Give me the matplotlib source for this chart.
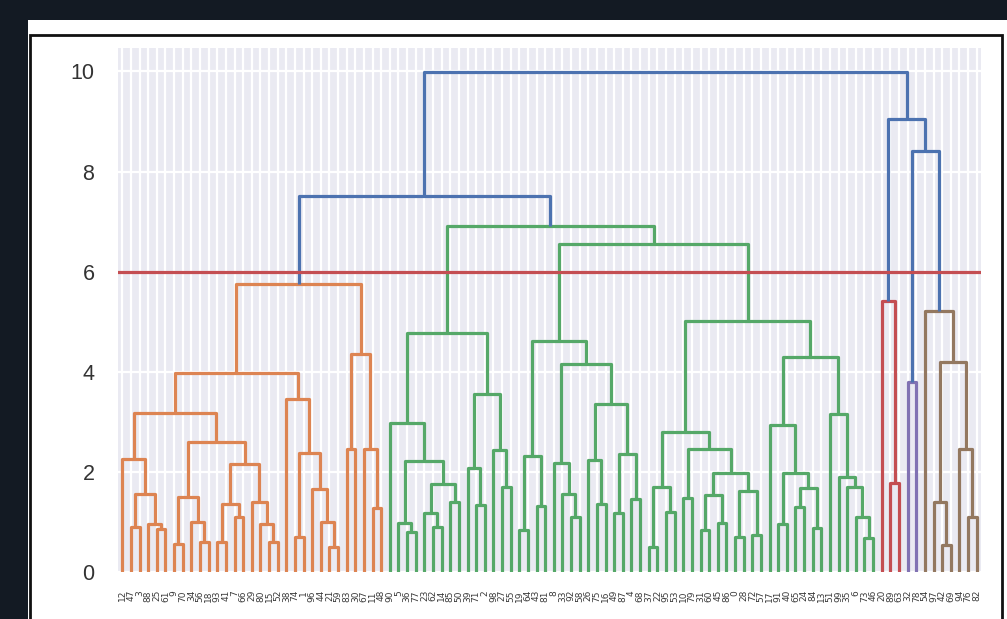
import matplotlib
matplotlib.use("Agg")
import matplotlib.pyplot as plt
from matplotlib.patches import Rectangle

# ---------------------------------------------------------------------------
# Hierarchical clustering result.  A merge is (distance, left, right);
# L marks a single observation.  Leaves are laid out left to right.
# ---------------------------------------------------------------------------
L = None

orange_tree = (5.76,
    (3.98,
        (3.17,
            (2.25, L, (1.55, (0.90, L, L), (0.95, L, (0.85, L, L)))),
            (2.60,
                (1.50, (0.55, L, L), (1.00, L, (0.60, L, L))),
                (2.15,
                    (1.35, (0.60, L, L), (1.10, L, L)),
                    (1.40, L, (0.95, L, (0.60, L, L)))))),
        (3.45, L, (2.37, (0.70, L, L), (1.65, L, (1.00, L, (0.50, L, L)))))),
    (4.35, (2.45, L, L), (2.45, L, (1.28, L, L))))

green_tree = (6.91,
    (4.77,
        (2.98, L, (2.22, (0.98, L, (0.80, L, L)),
                         (1.75, (1.17, L, (0.90, L, L)), (1.40, L, L)))),
        (3.55, (2.07, L, (1.33, L, L)), (2.44, L, (1.70, L, L)))),
    (6.55,
        (4.61,
            (2.31, (0.84, L, L), (1.31, L, L)),
            (4.16,
                (2.18, L, (1.55, L, (1.10, L, L))),
                (3.36,
                    (2.24, L, (1.35, L, L)),
                    (2.35, (1.17, L, L), (1.45, L, L))))),
        (5.02,
            (2.79,
                (1.70, (0.50, L, L), (1.20, L, L)),
                (2.46,
                    (1.47, L, L),
                    (1.97,
                        (1.53, (0.84, L, L), (0.97, L, L)),
                        (1.62, (0.70, L, L), (0.74, L, L))))),
            (4.29,
                (2.93, L, (1.98, (0.95, L, L),
                                 (1.67, (1.30, L, L), (0.87, L, L)))),
                (3.16, L, (1.90, L, (1.70, L, (1.10, L, (0.68, L, L)))))))))

red_tree = (5.42, L, (1.78, L, L))
purple_tree = (3.79, L, L)
brown_tree = (5.22, L, (4.19, (1.40, L, (0.54, L, L)),
                              (2.45, L, (1.10, L, L))))

# merges above the colour threshold, joining the flat clusters
top_links = (9.98,
             (7.51, "orange", "green"),
             (9.06, "red", (8.41, "purple", "brown")))

cut_height = 6.0

leaf_labels = [
    12, 47, 3, 88, 25, 61, 9, 70, 34, 56,
    18, 93, 41, 7, 66, 29, 80, 15, 52, 38,
    74, 1, 96, 44, 21, 59, 83, 30, 67, 11,
    48, 90, 5, 36, 77, 23, 62, 14, 85, 50,
    39, 71, 2, 98, 27, 55, 19, 64, 43, 81,
    8, 33, 92, 58, 26, 75, 16, 49, 87, 4,
    68, 37, 22, 95, 53, 10, 79, 31, 60, 45,
    86, 0, 28, 72, 57, 17, 91, 40, 65, 24,
    84, 13, 51, 99, 35, 6, 73, 46, 20, 89,
    63, 32, 78, 54, 97, 42, 69, 94, 76, 82,
]

y_ticks = [0, 2, 4, 6, 8, 10]

palette = {
    "above": "#4C72B0",
    "orange": "#DD8452",
    "green": "#55A868",
    "red": "#C44E52",
    "purple": "#8172B3",
    "brown": "#937860",
}
clusters = {
    "orange": orange_tree,
    "green": green_tree,
    "red": red_tree,
    "purple": purple_tree,
    "brown": brown_tree,
}

# ---------------------------------------------------------------------------
W, H = 1007, 619
fig = plt.figure(figsize=(W / 100, H / 100), dpi=100)
fig.patch.set_facecolor("#131a23")

# white page and framed output box (drawn beneath the axes)
fig.patches.append(Rectangle((28 / W, 0), 1 - 28 / W, (H - 20) / H,
                             transform=fig.transFigure, facecolor="white",
                             edgecolor="none", zorder=-3))
fig.patches.append(Rectangle((30 / W, -0.02), (1002 - 30) / W, (H - 35) / H + 0.02,
                             transform=fig.transFigure, facecolor="none",
                             edgecolor="#111111", linewidth=2.0, zorder=-2))

ax = fig.add_axes([118 / W, (H - 572) / H, (981 - 118) / W, (572 - 47.5) / H])
ax.set_zorder(2)
ax.set_facecolor("#EAEAF2")
for s in ax.spines.values():
    s.set_visible(False)

leaf_x = []
lw = 2.3


def draw(node, color):
    if node is None:
        x = 5 + 10 * len(leaf_x)
        leaf_x.append(x)
        return x, 0.0
    if isinstance(node, str):
        return draw(clusters[node], palette[node])
    h, a, b = node
    xa, ya = draw(a, color)
    xb, yb = draw(b, color)
    ax.plot([xa, xa, xb, xb], [ya, h, h, yb], color=color, lw=lw,
            solid_capstyle="butt", zorder=3)
    return (xa + xb) / 2, h


draw(top_links, palette["above"])
n_leaves = len(leaf_x)

ax.axhline(cut_height, color="#C44E52", lw=2.3, zorder=4)

ax.set_xlim(0, 10 * n_leaves)
ax.set_ylim(0, 1.05 * top_links[0])

ax.set_xticks(leaf_x)
ax.set_xticklabels([str(v) for v in leaf_labels[:n_leaves]], rotation=90,
                   fontsize=6.5, color="#3a3a3a")
ax.set_yticks(y_ticks)
ax.set_yticklabels([str(v) for v in y_ticks], fontsize=15.5, color="#333333",
                   family=["Liberation Sans", "DejaVu Sans"])
ax.tick_params(axis="both", length=0)
ax.tick_params(axis="y", pad=17)
ax.tick_params(axis="x", pad=13)
ax.grid(True, color="white", linewidth=1.6, zorder=0)
ax.set_axisbelow(True)

fig.savefig("out.png", dpi=100, facecolor=fig.get_facecolor())
